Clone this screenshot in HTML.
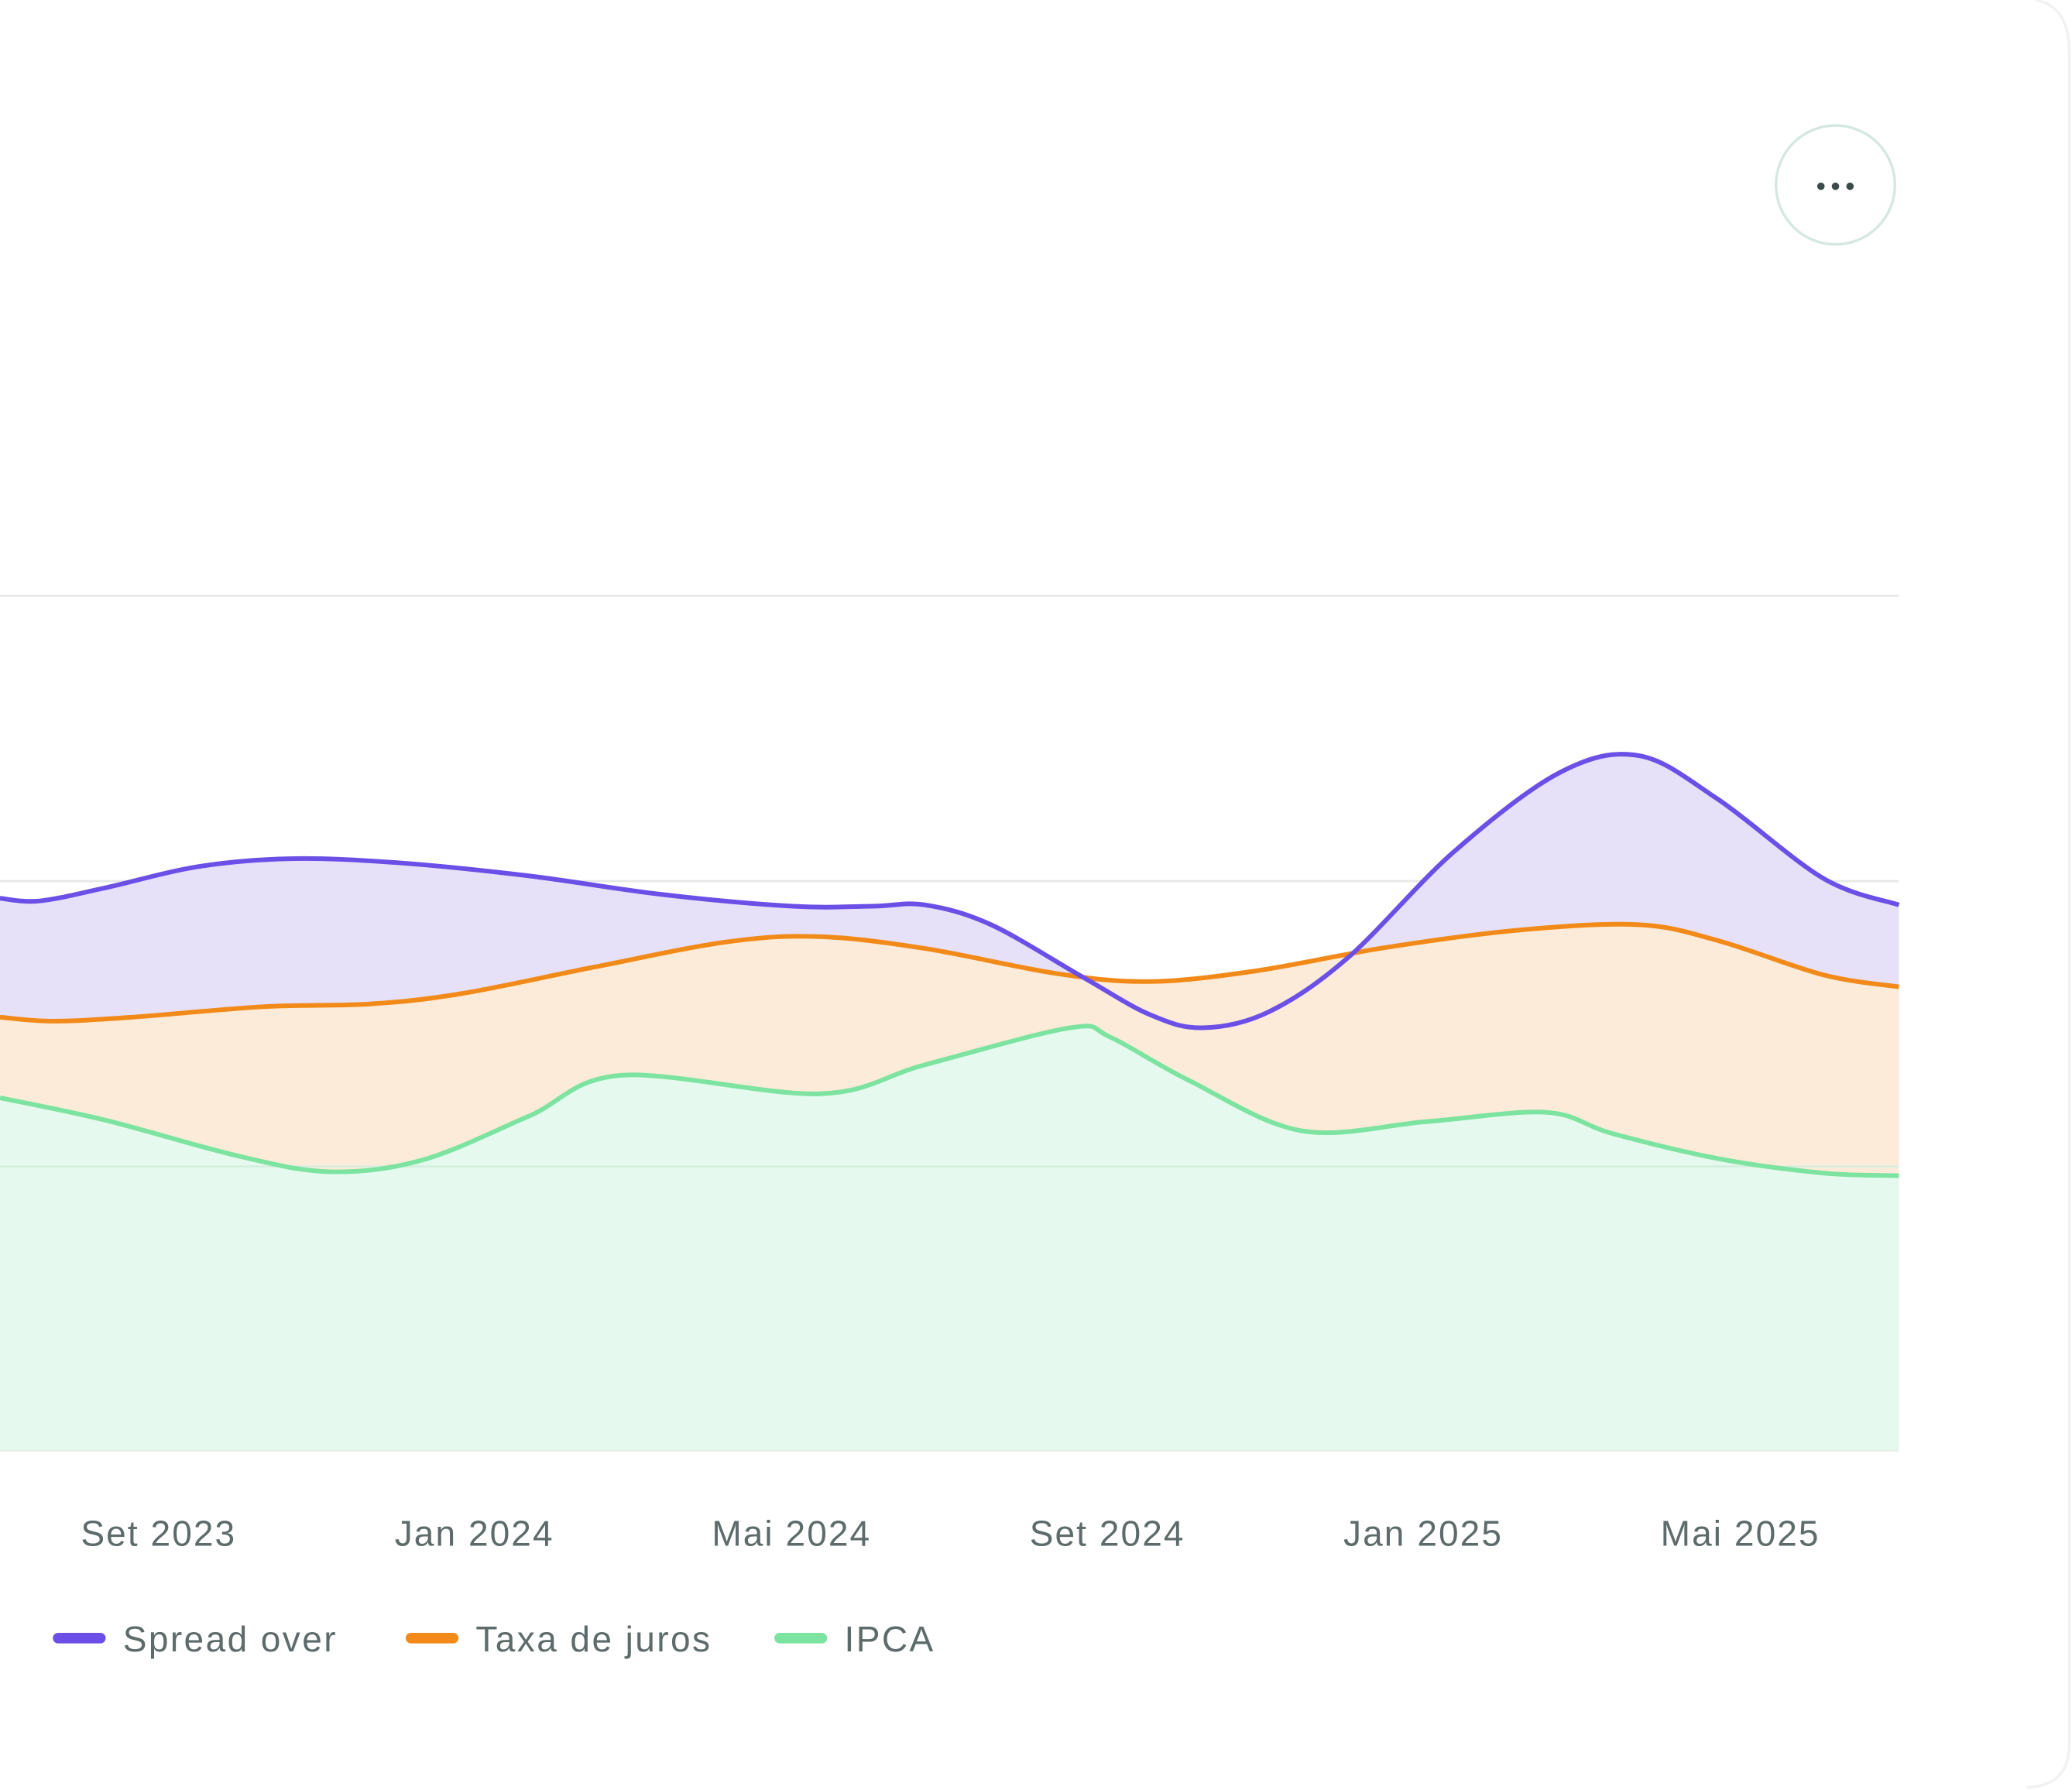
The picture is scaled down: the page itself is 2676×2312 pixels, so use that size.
<!DOCTYPE html>
<html><head><meta charset="utf-8"><style>
html,body{margin:0;padding:0;background:#fff;width:2676px;height:2312px;overflow:hidden}
svg{display:block}
text{font-family:"Liberation Sans",sans-serif}
</style></head><body>
<svg id="s" width="2676" height="2312" viewBox="0 0 1568 1355" preserveAspectRatio="none" xmlns="http://www.w3.org/2000/svg">
<path d="M1540 0 Q1566 4 1566 40 L1566 1320 Q1566 1352 1534 1353" fill="none" stroke="#f0f2f2" stroke-width="2"/>
<circle cx="1389" cy="140" r="45" fill="#fff" stroke="#d5e8e0" stroke-width="2"/>
<circle cx="1378" cy="141" r="2.8" fill="#3d4a4a"/><circle cx="1389" cy="141" r="2.8" fill="#3d4a4a"/><circle cx="1400" cy="141" r="2.8" fill="#3d4a4a"/>
<g stroke="#e6e8e8" stroke-width="1.5"><line x1="0" y1="451" x2="1437" y2="451"/><line x1="0" y1="667" x2="1437" y2="667"/><line x1="0" y1="883" x2="1437" y2="883"/><line x1="0" y1="1098" x2="1437" y2="1098"/></g>
<path id="pa" fill="#e6e1f8"/><path id="oa" fill="#fcebd8"/><path id="ga" fill="#e6f9ee"/>
<line x1="0" y1="883" x2="1437" y2="883" stroke="#d4eedd" stroke-width="1.5"/>
<path id="gl" fill="none" stroke="#7ce3a0" stroke-width="3.5"/>
<path id="ol" fill="none" stroke="#f28a1a" stroke-width="3.5"/>
<path id="pl" fill="none" stroke="#6b4fe6" stroke-width="3.5"/>
<g fill="#5e6b6b" font-size="27" letter-spacing="1.2" text-anchor="middle">
<text x="120" y="1170">Set 2023</text><text x="359" y="1170">Jan 2024</text><text x="599" y="1170">Mai 2024</text><text x="838" y="1170">Set 2024</text><text x="1077" y="1170">Jan 2025</text><text x="1317" y="1170">Mai 2025</text></g>
<g stroke-width="8" stroke-linecap="round"><line x1="44" y1="1240" x2="76" y2="1240" stroke="#6b4fe6"/><line x1="311" y1="1240" x2="343" y2="1240" stroke="#f28a1a"/><line x1="590" y1="1240" x2="622" y2="1240" stroke="#7ce3a0"/></g>
<g fill="#5e6b6b" font-size="27" letter-spacing="1.4"><text x="93" y="1250">Spread over</text><text x="360" y="1250">Taxa de juros</text><text x="639" y="1250">IPCA</text></g>
</svg>
<script>
function sm(p){let d="M"+p[0][0]+" "+p[0][1];for(let i=0;i<p.length-1;i++){const a=p[i-1]||p[i],b=p[i],c=p[i+1],e=p[i+2]||c;
d+=" C"+(b[0]+(c[0]-a[0])/6)+" "+(b[1]+(c[1]-a[1])/6)+" "+(c[0]-(e[0]-b[0])/6)+" "+(c[1]-(e[1]-b[1])/6)+" "+c[0]+" "+c[1];}return d;}
const P=[[0,680],[30,682],[80,672],[150,656],[220,650],[300,653],[400,663],[500,677],[600,686],[660,686],[700,685],[750,700],[820,740],[870,768],[910,778],[960,766],[1020,725],[1100,645],[1180,585],[1240,572],[1300,605],[1380,665],[1437,685]];
const O=[[0,770],[40,773],[100,770],[200,762],[280,760],[350,752],[450,732],[550,713],[620,709],[700,718],[800,737],[870,743],[950,735],[1050,717],[1150,704],[1240,700],[1300,712],[1380,738],[1437,747]];
const G=[[0,831],[80,848],[180,875],[250,887],[320,878],[400,845],[470,814],[620,828],[700,806],[810,778],[840,785],[900,818],[985,856],[1080,849],[1170,842],[1220,858],[1300,877],[1380,888],[1437,890]];
const cl=" L1437 1098 L0 1098 Z";
[["p",P],["o",O],["g",G]].forEach(([k,a])=>{const d=sm(a);document.getElementById(k+"l").setAttribute("d",d);document.getElementById(k+"a").setAttribute("d",d+cl);});
</script>
</body></html>
